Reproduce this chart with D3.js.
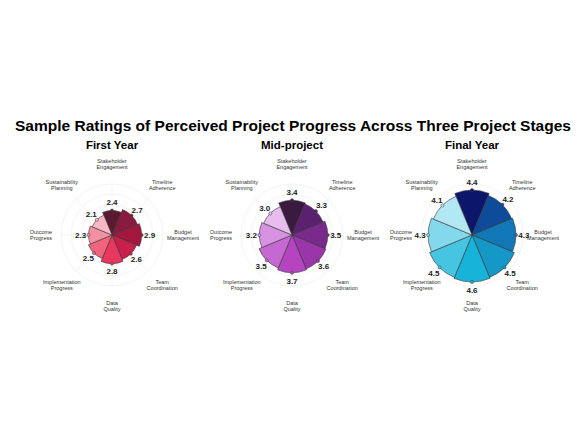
<!DOCTYPE html><html><head><meta charset="utf-8"><script src="https://cdn.jsdelivr.net/npm/d3@7"></script>
<style>body{margin:0;background:#fff}</style></head><body><svg id="c" width="586" height="440"></svg>
<script>
const categories=["Stakeholder\nEngagement","Timeline\nAdherence","Budget\nManagement","Team\nCoordination","Data\nQuality","Implementation\nProgress","Outcome\nProgress","Sustainability\nPlanning"];
const stages=["First Year","Mid-project","Final Year"];
const firstYear=[2.4,2.7,2.9,2.6,2.8,2.5,2.3,2.1];
const midProject=[3.4,3.3,3.5,3.6,3.7,3.5,3.2,3.0];
const finalYear=[4.4,4.2,4.3,4.5,4.6,4.5,4.3,4.1];
const palettes=[
["#5a1a30","#8a1b3e","#a3173f","#c81f4b","#e8385f","#f1647d","#f590a4","#f9b8c6"],
["#3b1a40","#5b2170","#792b8b","#9a36a8","#b444c0","#c668d2","#d792e1","#e8bdee"],
["#0c176c","#0e4b99","#1277b6","#1598c7","#18b3d9","#45c5e1","#84d8ec","#b2e7f4"]];
const series=[firstYear,midProject,finalYear];
const svg=d3.select("#c");
svg.append("text").attr("x",293).attr("y",131).attr("text-anchor","middle").attr("font-family","Liberation Sans, Arial").attr("font-weight","bold").attr("font-size",15.5).text("Sample Ratings of Perceived Project Progress Across Three Project Stages");
const centers=[112,292,472], cy=235;
const r=d3.scaleLinear().domain([0,5]).range([0,51]);
const step=2*Math.PI/categories.length;
series.forEach((vals,si)=>{
  const g=svg.append("g").attr("transform",`translate(${centers[si]},${cy})`);
  svg.append("text").attr("x",centers[si]).attr("y",149).attr("text-anchor","middle").attr("font-family","Liberation Sans, Arial").attr("font-weight","bold").attr("font-size",11.5).text(stages[si]);
  [1,2,3,4,5].forEach(t=>g.append("circle").attr("r",r(t)).attr("fill","none").attr("stroke","#f0f0f0").attr("stroke-width",0.8));
  categories.forEach((c,i)=>{const a=i*step;g.append("line").attr("x2",r(5)*Math.sin(a)).attr("y2",-r(5)*Math.cos(a)).attr("stroke","#f0f0f0").attr("stroke-width",0.8);});
  const arc=d3.arc().innerRadius(0);
  vals.forEach((v,i)=>{
    const a=i*step;
    g.append("path").attr("d",arc({outerRadius:r(v),startAngle:a-step/2,endAngle:a+step/2})).attr("fill",palettes[si][i]).attr("stroke","#333").attr("stroke-width",0.6);
    g.append("circle").attr("cx",r(v)*Math.sin(a)).attr("cy",-r(v)*Math.cos(a)).attr("r",1.6).attr("fill",palettes[si][i]).attr("stroke","#444").attr("stroke-width",0.5);
    const lr=r(v)+8;
    g.append("text").attr("x",lr*Math.sin(a)).attr("y",-lr*Math.cos(a)).attr("dy","0.35em").attr("text-anchor","middle").attr("font-family","Liberation Sans, Arial").attr("font-weight","bold").attr("font-size",8).attr("fill","#222").text(v.toFixed(1));
    const cr=r(5)+20;
    const t=g.append("text").attr("text-anchor","middle").attr("font-family","Liberation Sans, Arial").attr("font-size",5.5).attr("fill","#333");
    const lines=categories[i].split("\n");
    lines.forEach((l,k)=>t.append("tspan").attr("x",cr*Math.sin(a)).attr("y",-cr*Math.cos(a)+(k-(lines.length-1)/2)*6.5+2).text(l));
  });
});
</script></body></html>
